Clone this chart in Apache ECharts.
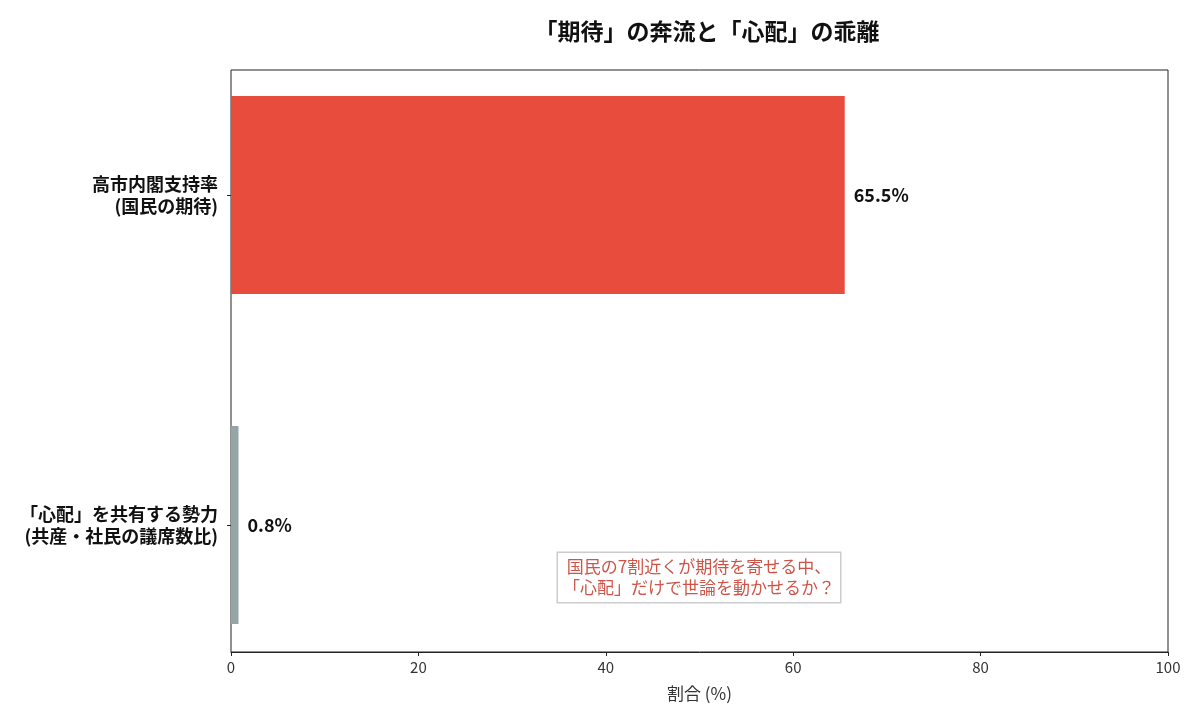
<!DOCTYPE html>
<html>
<head>
<meta charset="utf-8">
<script src="https://cdn.jsdelivr.net/npm/echarts@6/dist/echarts.min.js"></script>
<style>
  html, body { margin: 0; padding: 0; background: #fff; }
  #chart { width: 1200px; height: 720px; }
</style>
</head>
<body>
<div id="chart"></div>
<script>
// data
var categories = ['高市内閣支持率\n(国民の期待)', '「心配」を共有する勢力\n(共産・社民の議席数比)'];
var values = [65.5, 0.8];
var barColors = ['#E74C3C', '#95A5A6'];
var xTicks = [0, 20, 40, 60, 80, 100];
var titleText = '「期待」の奔流と「心配」の乖離';
var noteText = '国民の7割近くが期待を寄せる中、\n「心配」だけで世論を動かせるか？';

var FONT = '"Noto Sans CJK JP", "Noto Sans", sans-serif';

var chart = echarts.init(document.getElementById('chart'), null, { renderer: 'canvas' });

var option = {
    animation: false,
    backgroundColor: '#fff',
    title: {
        text: titleText,
        left: 702,
        top: 15,
        textAlign: 'center',
        textStyle: { fontFamily: FONT, fontSize: 23, fontWeight: 'bold', color: '#111' }
    },
    grid: [
        // frame + x axis
        { left: 231, right: 32, top: 70, bottom: 68, show: true, borderColor: '#222', borderWidth: 1, backgroundColor: 'transparent' },
        // bars (wider vertical extent so bands match matplotlib spacing)
        { left: 231, right: 32, top: 30, bottom: 30, show: false }
    ],
    xAxis: [
        {
            gridIndex: 0, type: 'value', min: 0, max: 100, interval: 20,
            name: '割合 (%)', nameLocation: 'middle', nameGap: 33,
            nameTextStyle: { fontFamily: FONT, fontSize: 17, color: '#333' },
            axisLine: { show: true, lineStyle: { color: '#222' } },
            axisTick: { show: true, inside: false, length: 4, lineStyle: { color: '#222' } },
            axisLabel: {
                fontFamily: FONT, fontSize: 15, color: '#333', margin: 8,
                formatter: function (v) { return xTicks.indexOf(v) >= 0 ? String(v) : ''; }
            },
            splitLine: { show: false }
        },
        {
            gridIndex: 1, type: 'value', min: 0, max: 100, show: false
        }
    ],
    yAxis: [
        { gridIndex: 0, type: 'value', show: false },
        {
            gridIndex: 1, type: 'category', data: categories, inverse: true,
            axisLine: { show: false },
            axisTick: { show: true, alignWithLabel: true, length: 4, lineStyle: { color: '#222' } },
            axisLabel: {
                fontFamily: FONT, fontSize: 18, fontWeight: 'bold', color: '#111',
                align: 'right', lineHeight: 22, margin: 13
            }
        }
    ],
    series: [{
        type: 'bar',
        xAxisIndex: 1,
        yAxisIndex: 1,
        barCategoryGap: '40%',
        data: values.map(function (v, i) {
            return { value: v, itemStyle: { color: barColors[i] } };
        }),
        label: {
            show: true,
            position: 'right',
            distance: 9,
            formatter: function (p) { return p.value.toFixed(1) + '%'; },
            fontFamily: FONT, fontSize: 18, fontWeight: 'bold', color: '#111'
        }
    }],
    graphic: [{
        type: 'text',
        x: 699,
        y: 553,
        style: {
            text: noteText,
            textAlign: 'center',
            textVerticalAlign: 'top',
            font: '17px ' + FONT,
            fill: '#CF5447',
            lineHeight: 21,
            backgroundColor: '#fff',
            borderColor: '#ccc',
            borderWidth: 1.5,
            padding: [3, 5, 4, 5]
        }
    }]
};

chart.setOption(option);
</script>
</body>
</html>
